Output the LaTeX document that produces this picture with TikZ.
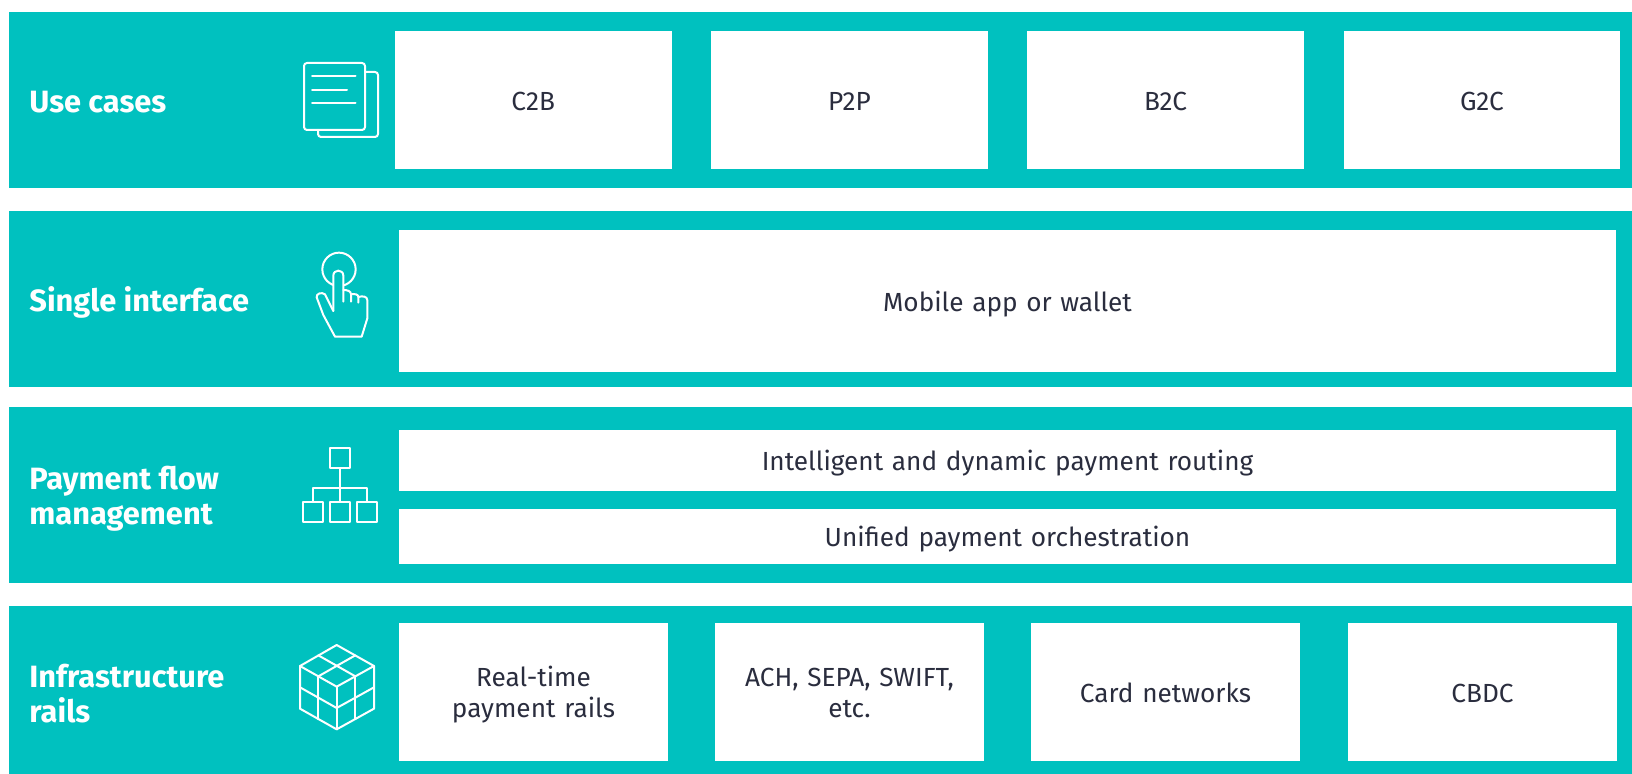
\documentclass[tikz,border=0pt]{standalone}
\usepackage{fontspec}
\setmainfont{Fira Sans}
\definecolor{teal}{HTML}{00C1BF}
\definecolor{ink}{HTML}{2A2D3E}
\newcommand\st[1]{\rule{0pt}{10.4pt}\smash{#1}}
\tikzset{
  band/.style={fill=teal,draw=none},
  cell/.style 2 args={fill=white,draw=none,inner sep=0pt,outer sep=0pt,text=ink,align=center,
    minimum width=#1*0.5pt,minimum height=#2*0.5pt,text width=#1*0.5pt-10pt,
    font=\fontsize{13.1}{15.5}\selectfont},
  heading/.style={anchor=west,inner sep=0pt,text=white,align=left,
    font=\fontsize{15.4}{17.5}\selectfont\bfseries},
  icon/.style={draw=white,line width=1pt,line join=round,line cap=round,fill=none},
}
\begin{document}
\begin{tikzpicture}[x=0.5pt,y=-0.5pt]
\useasboundingbox (0,0) rectangle (1632,774);
\fill[white] (0,0) rectangle (1632,774);
% bands
\fill[band] (9,12) rectangle (1632,188);
\fill[band] (9,211) rectangle (1632,387);
\fill[band] (9,407) rectangle (1632,583);
\fill[band] (9,606) rectangle (1632,774);
% headings
\node[heading] (h1) at (29,102) {\st{Use cases}};
\node[heading] (h2) at (29,301) {\st{Single interface}};
\node[heading] (h3) at (29,497) {\st{Payment flow}\\\st{management}};
\node[heading] (h4) at (29,695) {\st{Infrastructure}\\\st{rails}};
% band 1
\node[cell={277.5}{138}] (c2b) at (533.25,100) {\st{C2B}};
\node[cell={277}{138}] (p2p) at (849.5,100) {\st{P2P}};
\node[cell={277}{138}] (b2c) at (1165.5,100) {\st{B2C}};
\node[cell={276}{138}] (g2c) at (1482,100) {\st{G2C}};
% band 2
\node[cell={1217}{142}] (wallet) at (1007.5,301) {\st{Mobile app or wallet}};
% band 3
\node[cell={1217}{61}] (routing) at (1007.5,460.5) {\st{Intelligent and dynamic payment routing}};
\node[cell={1217}{55}] (orch) at (1007.5,536.5) {\st{Unified payment orchestration}};
% band 4
\node[cell={269}{138}] (rt) at (533.5,692) {\st{Real-time}\\\st{payment rails}};
\node[cell={269}{138}] (ach) at (849.5,692) {\st{ACH, SEPA, SWIFT,}\\\st{etc.}};
\node[cell={269}{138}] (card) at (1165.5,692) {\st{Card networks}};
\node[cell={269}{138}] (cbdc) at (1482.5,692) {\st{CBDC}};
% icon: documents
\begin{scope}[icon]
\draw[rounded corners=1.5] (304,63) rectangle (365,130);
\draw[rounded corners=1.5] (365,72) -- (378,72) -- (378,137) -- (318,137) -- (318,130);
\draw (312,76.5) -- (355.5,76.5);
\draw (312,90) -- (347,90);
\draw (312,103) -- (355.5,103);
\end{scope}
% icon: hand
\begin{scope}[shift={(290,235)},scale=1/3,icon]
\draw (147,103) circle[radius=50];
\fill[teal] (131,122) rectangle (159,228);
\draw (130,228) -- (130,122) .. controls (130,102) and (160,102) .. (160,122) -- (160,200);
\draw (160,165) .. controls (172,165) and (183,168) .. (183,178) -- (183,200);
\draw (183,178) .. controls (195,176) and (205,178) .. (205,186) -- (205,203);
\draw (205,186) .. controls (218,182) and (232,184) .. (232,196) -- (232,250) -- (215,305) -- (135,305) -- (100,240) -- (80,187) .. controls (78,176) and (95,170) .. (105,178) -- (130,228);
\end{scope}
% icon: hierarchy
\begin{scope}[shift={(285,435)},scale=1/3,icon]
\draw (135,40) rectangle (195,100);
\draw (55,200) rectangle (115,260);
\draw (135,200) rectangle (195,260);
\draw (215,200) rectangle (275,260);
\draw (165,100) -- (165,200);
\draw (85,200) -- (85,160) -- (245,160) -- (245,200);
\end{scope}
% icon: cube
\begin{scope}[shift={(285,630)},scale=1/3,icon]
\draw (155,45) -- (267,108) -- (267,236) -- (155,298) -- (45,236) -- (45,108) -- cycle;
\draw (45,108) -- (155,170) -- (267,108);
\draw (155,170) -- (155,298);
\draw (100,76) -- (211,139);
\draw (211,76) -- (100,139);
\draw (100,139) -- (100,267);
\draw (211,139) -- (211,267);
\draw (45,172) -- (155,234) -- (267,172);
\end{scope}
\end{tikzpicture}
\end{document}
